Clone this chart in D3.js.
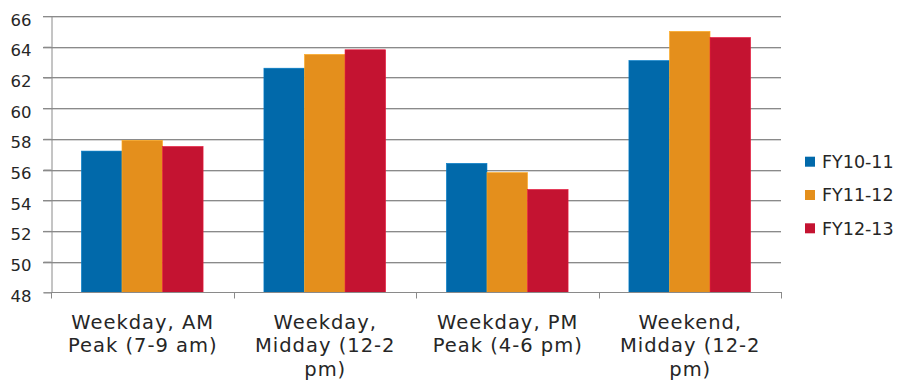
<!DOCTYPE html>
<html>
<head>
<meta charset="utf-8">
<script src="https://cdn.jsdelivr.net/npm/d3@7"></script>
<style>
  html, body { margin: 0; padding: 0; background: #fff; }
  svg { display: block; }
  text { font-family: "DejaVu Sans", sans-serif; fill: #262626; }
</style>
</head>
<body>
<svg id="chart" width="902" height="387"></svg>
<script>
// Time periods along the x axis
const categories = [
  "Weekday, AM Peak (7-9 am)",
  "Weekday, Midday (12-2 pm)",
  "Weekday, PM Peak (4-6 pm)",
  "Weekend, Midday (12-2 pm)"
];
// Fiscal-year series
const seriesNames = ["FY10-11", "FY11-12", "FY12-13"];
const fy1011 = [57.2, 62.6, 56.4, 63.1];
const fy1112 = [57.9, 63.5, 55.8, 65.0];
const fy1213 = [57.5, 63.8, 54.7, 64.6];
const seriesValues = [fy1011, fy1112, fy1213];
const seriesColors = ["#0169aa", "#e48f1c", "#c41331"];
// Value axis ticks
const yTicks = [48, 50, 52, 54, 56, 58, 60, 62, 64, 66];

const svg = d3.select("#chart");
const plot = { left: 51, right: 781, top: 16, bottom: 292.3 };

const x0 = d3.scaleBand()
  .domain(categories)
  .range([plot.left, plot.right])
  .paddingInner(0)
  .paddingOuter(0);

const x1 = d3.scaleBand()
  .domain(seriesNames)
  .range([0, x0.bandwidth()])
  .paddingOuter(0.75)
  .paddingInner(0);

const y = d3.scaleLinear()
  .domain([48, 66])
  .range([plot.bottom, plot.top]);

// Horizontal gridlines with a faint highlight underneath
const grid = svg.append("g");
grid.selectAll("line.shadow")
  .data(yTicks.slice(1))
  .join("line")
  .attr("class", "shadow")
  .attr("x1", plot.left - 8).attr("x2", plot.right)
  .attr("y1", d => Math.round(y(d)) + 1.5).attr("y2", d => Math.round(y(d)) + 1.5)
  .attr("stroke", "#d6d6d6").attr("stroke-width", 1);
grid.selectAll("line.main")
  .data(yTicks.slice(1))
  .join("line")
  .attr("class", "main")
  .attr("x1", plot.left - 8).attr("x2", plot.right)
  .attr("y1", d => Math.round(y(d)) + 0.5).attr("y2", d => Math.round(y(d)) + 0.5)
  .attr("stroke", "#8a8a8a").attr("stroke-width", 1);

// Bars
const groups = svg.append("g")
  .selectAll("g")
  .data(categories)
  .join("g")
  .attr("transform", d => `translate(${x0(d)},0)`);

groups.selectAll("rect")
  .data((c, i) => seriesNames.map((s, k) => ({ s, v: seriesValues[k][i], color: seriesColors[k] })))
  .join("rect")
  .attr("x", d => x1(d.s))
  .attr("width", x1.bandwidth())
  .attr("y", d => y(d.v))
  .attr("height", d => y(48) - y(d.v))
  .attr("fill", d => d.color)
  .attr("stroke", d => d3.color(d.color).brighter(0.5))
  .attr("stroke-width", 0.6);

// Y axis
const yAxis = d3.axisLeft(y)
  .tickValues(yTicks)
  .tickSize(8)
  .tickPadding(12)
  .tickFormat(d3.format("d"));
const yg = svg.append("g")
  .attr("transform", `translate(${plot.left + 0.5},0)`)
  .call(yAxis);
yg.select(".domain").attr("stroke", "#8a8a8a");
yg.selectAll(".tick line").attr("stroke", "#8a8a8a");
yg.selectAll(".tick text")
  .attr("font-size", 16.5)
  .attr("font-family", "DejaVu Sans, sans-serif")
  .attr("fill", "#262626")
  .attr("dy", "0.55em");

// X axis line with tick marks at category boundaries
const boundaries = categories.map(c => x0(c)).concat([plot.right]);
svg.append("line")
  .attr("x1", plot.left).attr("x2", plot.right)
  .attr("y1", Math.round(plot.bottom) + 0.5).attr("y2", Math.round(plot.bottom) + 0.5)
  .attr("stroke", "#8a8a8a");
svg.append("g").selectAll("line")
  .data(boundaries)
  .join("line")
  .attr("x1", d => Math.round(d) + 0.5).attr("x2", d => Math.round(d) + 0.5)
  .attr("y1", Math.round(plot.bottom)).attr("y2", Math.round(plot.bottom) + 6.5)
  .attr("stroke", "#8a8a8a");

// Category labels, wrapped to fit the band
const labelSize = 19.5;
const labelSpacing = 1;
const wrapWidth = 160;
const measure = svg.append("text")
  .attr("font-size", labelSize)
  .attr("letter-spacing", labelSpacing)
  .attr("visibility", "hidden");
function wrap(str) {
  const words = str.split(" ");
  const lines = [];
  let cur = "";
  words.forEach(w => {
    const test = cur ? cur + " " + w : w;
    measure.text(test);
    if (measure.node().getComputedTextLength() > wrapWidth && cur) {
      lines.push(cur);
      cur = w;
    } else {
      cur = test;
    }
  });
  if (cur) lines.push(cur);
  return lines;
}
const labels = svg.append("g")
  .selectAll("text")
  .data(categories)
  .join("text")
  .attr("text-anchor", "middle")
  .attr("font-size", labelSize)
  .attr("letter-spacing", labelSpacing)
  .attr("x", d => x0(d) + x0.bandwidth() / 2)
  .attr("y", 328.5);
labels.each(function(d) {
  const t = d3.select(this);
  wrap(d).forEach((line, i) => {
    t.append("tspan")
      .attr("x", x0(d) + x0.bandwidth() / 2 + labelSpacing / 2)
      .attr("y", 328.5 + i * 23.5)
      .text(line);
  });
});
measure.remove();

// Legend
const legend = svg.append("g")
  .selectAll("g")
  .data(seriesNames)
  .join("g")
  .attr("transform", (d, i) => `translate(805,${161.7 + i * 33.3})`);
legend.append("rect")
  .attr("x", 0).attr("y", -5)
  .attr("width", 10).attr("height", 10)
  .attr("fill", (d, i) => seriesColors[i]);
legend.append("text")
  .attr("x", 17)
  .attr("y", 0)
  .attr("dy", "0.36em")
  .attr("font-size", 17.5)
  .text(d => d);
</script>
</body>
</html>
